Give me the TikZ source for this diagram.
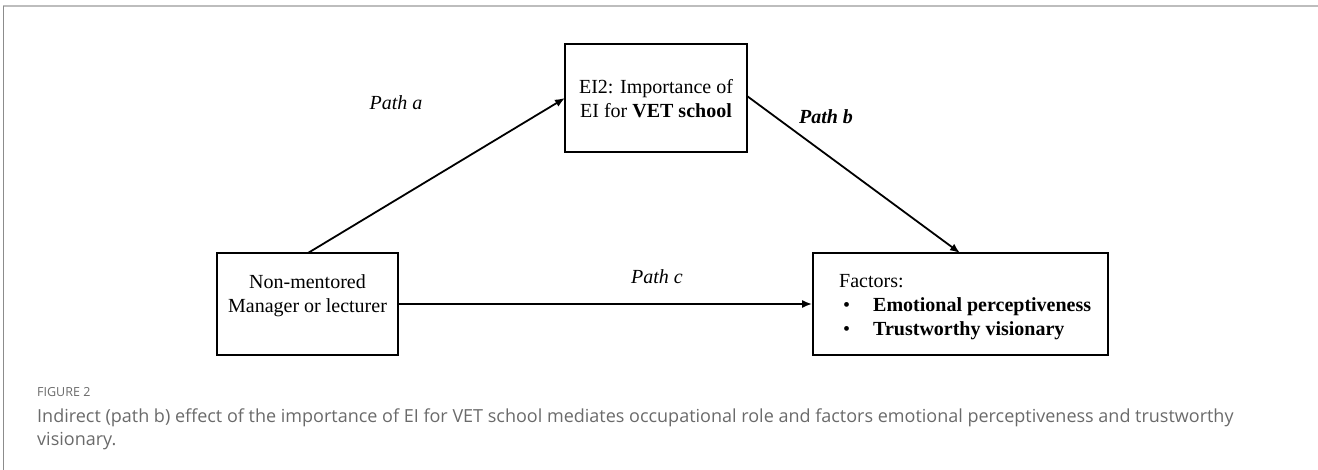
\documentclass[tikz,border=0pt]{standalone}
\usepackage{fontspec}
\setmainfont{Liberation Serif}
\newfontfamily\capfont{Open Sans}
\usetikzlibrary{arrows.meta}
\definecolor{framegrayA}{HTML}{BDBDBD}
\definecolor{framegrayB}{HTML}{8C8C8C}
\definecolor{captext}{HTML}{6A6A6A}
\tikzset{
  varbox/.style={draw=black, line width=1.8bp, inner sep=0pt},
  pathline/.style={draw=black, line width=1.8bp, -{Latex[length=10bp,width=8bp]}},
  boxtext/.style={font=\fontsize{20bp}{24bp}\selectfont, align=center, inner sep=0pt},
  pathlabel/.style={font=\fontsize{20bp}{24bp}\selectfont\itshape, inner sep=0pt},
  captionstyle/.style={font=\capfont\fontsize{18bp}{22bp}\selectfont, text=captext, align=left, inner sep=0pt, anchor=base west},
}
\begin{document}
\begin{tikzpicture}[x=1bp, y=-1bp]
  \useasboundingbox (0,0) rectangle (1318,470);
  % page frame
  \draw[framegrayA, line width=2bp] (3,6.5) -- (1318,6.5);
  \draw[framegrayB, line width=1.3bp] (3.5,6) -- (3.5,470);

  % variable boxes
  \node[varbox, minimum width=182bp, minimum height=108bp] (med) at (656,98) {};
  \node[varbox, minimum width=181bp, minimum height=102bp] (iv) at (307.5,304) {};
  \node[varbox, minimum width=295bp, minimum height=102bp] (dv) at (960.5,304) {};

  % box texts
  \node[boxtext] (medtxt) at (656,99) {EI2: Importance of\\EI for \textbf{VET school}};
  \node[boxtext] (ivtxt) at (307.5,296) {Non-mentored\\Manager or lecturer};
  \node[boxtext, align=left, anchor=north west] (dvtxt) at (839,274)
    {Factors:\\
     \makebox[34bp][l]{\hspace{4bp}\textbullet}\textbf{Emotional perceptiveness}\\
     \makebox[34bp][l]{\hspace{4bp}\textbullet}\textbf{Trustworthy visionary}};

  % paths
  \coordinate (aStart) at (308,253);
  \coordinate (aEnd) at (565,98);
  \coordinate (bStart) at (747,96);
  \coordinate (bEnd) at (960,253);
  \draw[pathline] (aStart) -- (aEnd);
  \draw[pathline] (bStart) -- (bEnd);
  \draw[pathline] (iv.east |- 0,304) -- (dv.west |- 0,304);

  \node[pathlabel] (la) at (396,103) {Path a};
  \node[pathlabel, font=\fontsize{20bp}{24bp}\selectfont\bfseries\itshape] (lb) at (826,117) {Path b};
  \node[pathlabel] (lc) at (657,277) {Path c};

  % caption
  \node[captionstyle, font=\capfont\fontsize{12.5bp}{15bp}\selectfont] (fig) at (37,396) {FIGURE 2};
  \node[captionstyle] (cap) at (37,422)
    {Indirect (path b) effect of the importance of EI for VET school mediates occupational role and factors emotional perceptiveness and trustworthy};
  \node[captionstyle] (cap2) at (37,445) {visionary.};
\end{tikzpicture}
\end{document}
